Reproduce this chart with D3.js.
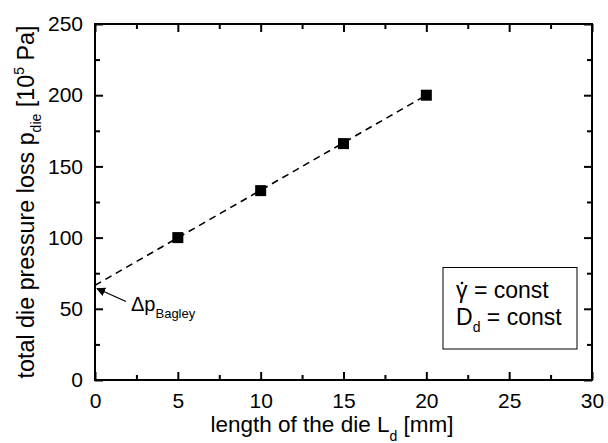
<!DOCTYPE html>
<html><head><meta charset="utf-8">
<script src="https://cdn.jsdelivr.net/npm/d3@7"></script>
<style>body{margin:0;background:#fff}svg{display:block}</style>
</head><body>
<svg id="c" width="608" height="443"></svg>
<script>
const lengths = [5, 10, 15, 20];
const pressures = [100, 133, 166, 200];
const fitX = [0, 20];
const fitY = [66.5, 200];
const xTicks = [0, 5, 10, 15, 20, 25, 30];
const yTicks = [0, 50, 100, 150, 200, 250];

const svg = d3.select("#c");
const L = 95, R = 592, T = 24, B = 380;
const x = d3.scaleLinear().domain([0, 30]).range([L, R]);
const y = d3.scaleLinear().domain([0, 250]).range([B, T]);
const font = "Liberation Sans, Arial, sans-serif";

const xMinor = d3.range(2.5, 30, 5);
const yMinor = d3.range(25, 250, 50);

const g = svg.append("g");
function addAxis(axisFn, scale, ticks, minor, transform, labels, pad) {
  const a = g.append("g").attr("transform", transform);
  a.call(axisFn(scale).tickValues(ticks).tickSize(-8).tickPadding(pad).tickFormat(labels ? d3.format("d") : ""));
  a.append("g").call(axisFn(scale).tickValues(minor).tickSize(-5).tickFormat(""))
    .select(".domain").remove();
  a.selectAll("path.domain").remove();
  a.selectAll(".tick line").attr("stroke", "#000").attr("stroke-width", 2);
  a.selectAll("text").attr("font-family", font).attr("font-size", 21).attr("fill", "#000");
  return a;
}
addAxis(d3.axisBottom, x, xTicks, xMinor, `translate(0,${B})`, true, 13);
addAxis(d3.axisTop, x, xTicks, xMinor, `translate(0,${T})`, false, 0);
addAxis(d3.axisLeft, y, yTicks, yMinor, `translate(${L},0)`, true, 12);
addAxis(d3.axisRight, y, yTicks, yMinor, `translate(${R},0)`, false, 0);
g.append("rect").attr("x", L).attr("y", T).attr("width", R - L).attr("height", B - T)
  .attr("fill", "none").attr("stroke", "#000").attr("stroke-width", 2);

// fit line
const fit = fitX.map((v, i) => [v, fitY[i]]);
svg.append("path").datum(fit)
  .attr("d", d3.line().x(d => x(d[0])).y(d => y(d[1])))
  .attr("fill", "none").attr("stroke", "#000").attr("stroke-width", 1.6)
  .attr("stroke-dasharray", "7,5");

// markers
const s = 11;
svg.selectAll("rect.pt").data(lengths).join("rect").attr("class", "pt")
  .attr("x", (d) => x(d) - s / 2).attr("y", (d, i) => y(pressures[i]) - s / 2)
  .attr("width", s).attr("height", s).attr("fill", "#000");

// arrow annotation
svg.append("defs").append("marker").attr("id", "ah").attr("viewBox", "0 0 10 10")
  .attr("refX", 9).attr("refY", 5).attr("markerWidth", 9).attr("markerHeight", 9)
  .attr("markerUnits", "userSpaceOnUse").attr("orient", "auto")
  .append("path").attr("d", "M0,0 L10,5 L0,10 z").attr("fill", "#000");
svg.append("line").attr("x1", 126).attr("y1", 301.5).attr("x2", x(0) + 2).attr("y2", 288.5)
  .attr("stroke", "#000").attr("stroke-width", 1.3).attr("marker-end", "url(#ah)");
const ann = svg.append("text").attr("x", 131).attr("y", 311).attr("font-family", font).attr("font-size", 20);
ann.append("tspan").text("Δp");
ann.append("tspan").attr("dy", 7).attr("font-size", 13).text("Bagley");

// legend box
svg.append("rect").attr("x", 443).attr("y", 267.5).attr("width", 134).attr("height", 81.5)
  .attr("fill", "#fff").attr("stroke", "#000").attr("stroke-width", 1);
svg.append("text").attr("x", 456).attr("y", 298).attr("font-family", font).attr("font-size", 23)
  .text("\u03B3 = const");
svg.append("circle").attr("cx", 462).attr("cy", 283).attr("r", 1.3).attr("fill", "#000");
const t2 = svg.append("text").attr("x", 456).attr("y", 325).attr("font-family", font).attr("font-size", 23);
t2.append("tspan").text("D");
t2.append("tspan").attr("dy", 7).attr("font-size", 14).text("d");
t2.append("tspan").attr("dy", -7).text(" = const");

// axis titles
const xt = svg.append("text").attr("x", 332).attr("y", 432).attr("text-anchor", "middle")
  .attr("font-family", font).attr("font-size", 22.5);
xt.append("tspan").text("length of the die L");
xt.append("tspan").attr("dy", 9).attr("font-size", 14).text("d");
xt.append("tspan").attr("dy", -9).text(" [mm]");

const yt = svg.append("text").attr("transform", `translate(34,202) rotate(-90)`)
  .attr("text-anchor", "middle").attr("font-family", font).attr("font-size", 23.3);
yt.append("tspan").text("total die pressure loss p");
yt.append("tspan").attr("dy", 7).attr("font-size", 14).text("die");
yt.append("tspan").attr("dy", -7).text(" [10");
yt.append("tspan").attr("dy", -10).attr("font-size", 14).text("5");
yt.append("tspan").attr("dy", 10).text(" Pa]");
</script>
</body></html>
